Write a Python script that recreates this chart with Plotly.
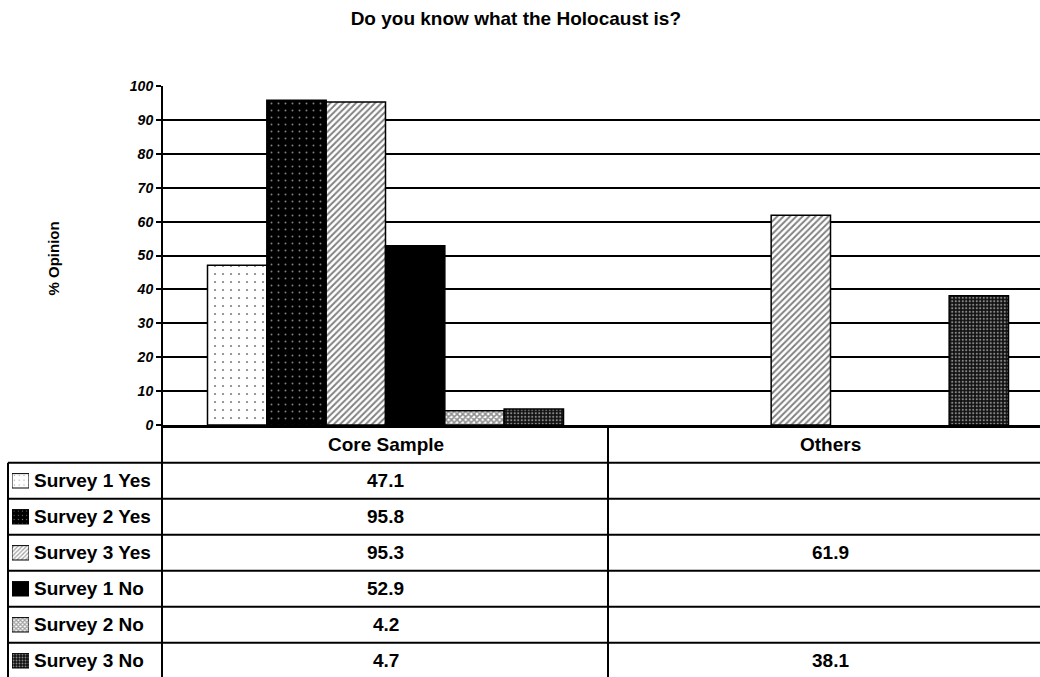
import plotly.graph_objects as go

# ---- data ----
chart_title = "Do you know what the Holocaust is?"
y_axis_title = "% Opinion"
categories = ["Core Sample", "Others"]
series_names = ["Survey 1 Yes", "Survey 2 Yes", "Survey 3 Yes",
                "Survey 1 No", "Survey 2 No", "Survey 3 No"]
survey1_yes = [47.1, None]
survey2_yes = [95.8, None]
survey3_yes = [95.3, 61.9]
survey1_no = [52.9, None]
survey2_no = [4.2, None]
survey3_no = [4.7, 38.1]
y_ticks = list(range(0, 101, 10))

series_values = [survey1_yes, survey2_yes, survey3_yes,
                 survey1_no, survey2_no, survey3_no]

# ---- styling ----
FONT = "Arial, 'Liberation Sans', sans-serif"
W, H = 1040, 677
PLOT_LEFT = 163          # px, left edge of the plotting area
PLOT_TOP = 86            # px, y = 100
PLOT_BOTTOM = 425        # px, y = 0 (also top of the data table)

# monochrome fills, one per series
fills = [
    dict(shape=".", fgcolor="black", bgcolor="white", size=8, solidity=0.06),
    dict(shape=".", fgcolor="white", bgcolor="black", size=7, solidity=0.06),
    dict(shape="/", fgcolor="black", bgcolor="white", size=4.5, solidity=0.42),
    dict(shape="", fgcolor="black", bgcolor="black", size=8, solidity=0.3),
    dict(shape="x", fgcolor="#222222", bgcolor="white", size=4, solidity=0.65),
    dict(shape=".", fgcolor="white", bgcolor="#111111", size=3.5, solidity=0.3),
]

x_pos = list(range(len(categories)))

fig = go.Figure()

# bars
for name, vals, f in zip(series_names, series_values, fills):
    fig.add_trace(go.Bar(
        x=x_pos, y=vals, name=name, showlegend=False,
        xaxis="x", yaxis="y",
        marker=dict(color=f["bgcolor"], pattern=f,
                    line=dict(color="black", width=1.5)),
        hoverinfo="skip",
    ))

# legend keys inside the data table (one small patterned box per row)
rows = [i + 1 for i in range(len(series_names))]
fig.add_trace(go.Bar(
    x=[1] * len(rows), y=rows, base=0, orientation="h", width=0.4,
    xaxis="x3", yaxis="y2", showlegend=False, hoverinfo="skip",
    marker=dict(
        color=[f["bgcolor"] for f in fills],
        pattern=dict(
            shape=[f["shape"] for f in fills],
            fgcolor=[f["fgcolor"] for f in fills],
            bgcolor=[f["bgcolor"] for f in fills],
            size=[max(3, f["size"] * 0.6) for f in fills],
            solidity=[f["solidity"] for f in fills],
        ),
        line=dict(color="black", width=1),
    ),
))

plot_domain_x = [PLOT_LEFT / W, 1]
table_top_frac = (H - PLOT_BOTTOM) / H
table_range = [6.45, -0.55]   # row index, header row = 0

# table grid lines
shapes = []
for k in range(len(series_names)):
    shapes.append(dict(type="line", xref="paper", yref="y2",
                       x0=8 / W, x1=1, y0=k + 0.5, y1=k + 0.5,
                       line=dict(color="black", width=2)))
shapes.append(dict(type="line", xref="paper", yref="y2",
                   x0=8 / W, x1=8 / W, y0=0.5, y1=table_range[0],
                   line=dict(color="black", width=2)))
for i in range(len(categories) - 1):
    shapes.append(dict(type="line", xref="x2", yref="y2",
                       x0=i + 0.5, x1=i + 0.5,
                       y0=table_range[1], y1=table_range[0],
                       line=dict(color="black", width=2)))

# table texts
annotations = []
bold = dict(family=FONT, size=19, color="black", weight="bold")
for i, c in enumerate(categories):
    annotations.append(dict(text=c, xref="x2", yref="y2", x=i, y=0,
                            showarrow=False, font=bold))
for r, (name, vals) in enumerate(zip(series_names, series_values), start=1):
    annotations.append(dict(text=name, xref="paper", yref="y2",
                            x=32 / W, y=r, xanchor="left", showarrow=False,
                            font=bold))
    for i, v in enumerate(vals):
        if v is not None:
            annotations.append(dict(text=f"{v:.1f}", xref="x2", yref="y2",
                                    x=i, y=r, showarrow=False, font=bold))

annotations.append(dict(text=y_axis_title, xref="paper", yref="paper",
                        x=42 / W, y=(H - 259) / H, textangle=-90,
                        showarrow=False,
                        font=dict(family=FONT, size=15, color="black",
                                  weight="bold")))

fig.update_layout(
    width=W, height=H, autosize=False,
    margin=dict(l=0, r=0, t=0, b=0, pad=0),
    paper_bgcolor="white", plot_bgcolor="white",
    barmode="group", bargap=0.2, bargroupgap=0,
    title=dict(text=chart_title, x=0.496, xanchor="center",
               y=1 - 18 / H, yanchor="middle", automargin=False,
               font=dict(family=FONT, size=19, color="black", weight="bold")),
    xaxis=dict(domain=plot_domain_x, anchor="y", range=[-0.5, 1.4708],
               automargin=False,
               showticklabels=False, showgrid=False, zeroline=False,
               showline=True, linecolor="black", linewidth=3, ticks=""),
    yaxis=dict(domain=[table_top_frac, (H - PLOT_TOP) / H], anchor="x",
               range=[0, 100], tickvals=y_ticks, automargin=False,
               showgrid=True, gridcolor="black", gridwidth=2,
               zeroline=False, showline=True, linecolor="black", linewidth=2,
               ticks="outside", ticklen=5, tickwidth=2, tickcolor="black",
               tickfont=dict(family=FONT, size=14, color="black",
                             weight="bold", style="italic")),
    xaxis2=dict(domain=plot_domain_x, anchor="y2", matches="x",
                automargin=False, visible=False),
    yaxis2=dict(domain=[0, table_top_frac], anchor="x2", range=table_range,
                automargin=False,
                showticklabels=False, showgrid=False, zeroline=False,
                showline=True, linecolor="black", linewidth=2, ticks=""),
    xaxis3=dict(domain=[12 / W, 29 / W], anchor="y2", range=[0, 1],
                automargin=False, visible=False),
    shapes=shapes,
    annotations=annotations,
)

fig.write_html("out.html")
